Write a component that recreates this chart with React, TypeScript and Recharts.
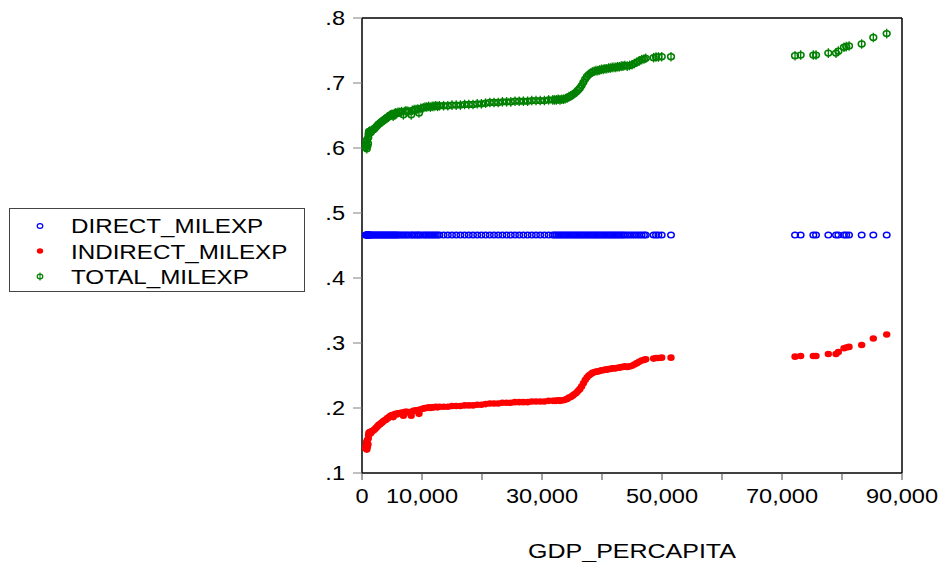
import React from 'react';
import { ScatterChart, Scatter, XAxis, YAxis, ReferenceLine } from 'recharts';

const FONT = '"Liberation Sans", Arial, sans-serif';

// GDP per capita (x values)
const gdpPercapita = [
  600, 700, 750, 800, 850, 900, 1000, 1050, 1100, 1150, 1200, 1300, 1450, 1600, 1800, 2000, 2200, 2400, 2600, 2800,
  3000, 3200, 3400, 3600, 3800, 4000, 4200, 4400, 4600, 4800, 5000, 5200, 5400, 5600, 5800, 6000, 6300, 6600, 6900, 7200,
  7500, 7800, 8200, 8400, 8700, 9000, 9300, 9500, 9800, 10200, 10500, 10800, 11100, 11400, 11700, 12000, 12300, 12600, 12900,
  13600, 14300, 15000, 15700, 16400, 17100, 17800, 18500, 19200, 19900, 20600, 21300, 22000, 22700, 23400, 24100, 24800,
  25500, 26200, 26900, 27600, 28300, 29000, 29700, 30400, 31100, 31800,
  32100, 32400, 32700, 33000, 33300, 33600, 33900, 34200, 34500, 34800, 35100, 35400, 35700, 36000, 36300, 36600, 36900,
  37200, 37500, 37800, 38100, 38400, 38700, 39000, 39300, 39600, 39900, 40200, 40500, 40800, 41100, 41400, 41700, 42000,
  42300, 42600, 42900, 43200, 43500, 43800,
  44200, 44600, 45000, 45400, 45800, 46200, 46600, 47000, 47300, 48600, 49000, 49400, 49950, 51500,
  72170, 73110, 75220, 75670, 77720, 79000, 79390, 80330, 80700, 81170, 83280, 85220, 87450,
];

const indirectMilexp = [
  0.138, 0.142, 0.147, 0.136, 0.150, 0.140, 0.144, 0.153, 0.158, 0.162, 0.160, 0.163, 0.161, 0.164, 0.165, 0.166, 0.168, 0.170, 0.172, 0.174,
  0.175, 0.177, 0.178, 0.180, 0.181, 0.182, 0.184, 0.185, 0.187, 0.188, 0.189, 0.186, 0.190, 0.191, 0.190, 0.192, 0.192, 0.193, 0.188, 0.194,
  0.194, 0.193, 0.188, 0.195, 0.196, 0.196, 0.197, 0.191, 0.198, 0.199, 0.200, 0.200, 0.201, 0.200, 0.201, 0.201, 0.202, 0.201, 0.202,
  0.202, 0.202, 0.203, 0.203, 0.203, 0.204, 0.204, 0.204, 0.205, 0.205, 0.206, 0.207, 0.207, 0.207, 0.208, 0.208, 0.208,
  0.209, 0.209, 0.209, 0.209, 0.210, 0.210, 0.210, 0.210, 0.211, 0.211,
  0.211, 0.211, 0.212, 0.211, 0.212, 0.212, 0.213, 0.214, 0.216, 0.217, 0.219, 0.221, 0.223, 0.226, 0.229, 0.233, 0.238,
  0.243, 0.247, 0.250, 0.252, 0.254, 0.255, 0.256, 0.256, 0.257, 0.258, 0.258, 0.259, 0.259, 0.260, 0.260, 0.261, 0.261,
  0.261, 0.262, 0.262, 0.263, 0.263, 0.264,
  0.263, 0.264, 0.265, 0.267, 0.269, 0.271, 0.273, 0.274, 0.275, 0.276, 0.277, 0.277, 0.2775, 0.2775,
  0.279, 0.280, 0.280, 0.280, 0.283, 0.283, 0.286, 0.292, 0.293, 0.294, 0.297, 0.307, 0.313,
];

const totalMilexp = [
  0.601, 0.605, 0.610, 0.599, 0.613, 0.603, 0.607, 0.616, 0.621, 0.625, 0.623, 0.626, 0.624, 0.627, 0.628, 0.629, 0.631, 0.633, 0.635, 0.637,
  0.638, 0.640, 0.641, 0.643, 0.644, 0.645, 0.647, 0.648, 0.650, 0.651, 0.652, 0.649, 0.653, 0.654, 0.653, 0.655, 0.655, 0.656, 0.651, 0.657,
  0.657, 0.656, 0.651, 0.658, 0.659, 0.659, 0.660, 0.654, 0.661, 0.662, 0.663, 0.663, 0.664, 0.663, 0.664, 0.664, 0.665, 0.664, 0.665,
  0.665, 0.665, 0.666, 0.666, 0.666, 0.667, 0.667, 0.667, 0.668, 0.668, 0.669, 0.670, 0.670, 0.670, 0.671, 0.671, 0.671,
  0.672, 0.672, 0.672, 0.672, 0.673, 0.673, 0.673, 0.673, 0.674, 0.674,
  0.674, 0.674, 0.675, 0.674, 0.675, 0.675, 0.676, 0.677, 0.679, 0.680, 0.682, 0.684, 0.686, 0.689, 0.692, 0.696, 0.701,
  0.706, 0.710, 0.713, 0.715, 0.717, 0.718, 0.719, 0.719, 0.720, 0.721, 0.721, 0.722, 0.722, 0.723, 0.723, 0.724, 0.724,
  0.724, 0.725, 0.725, 0.726, 0.726, 0.727,
  0.726, 0.727, 0.728, 0.730, 0.732, 0.734, 0.736, 0.737, 0.738, 0.739, 0.740, 0.740, 0.7405, 0.7405,
  0.742, 0.743, 0.743, 0.743, 0.746, 0.746, 0.749, 0.755, 0.756, 0.757, 0.760, 0.770, 0.776,
];

// DIRECT_MILEXP is the same value for every observation
const DIRECT_MILEXP_VALUE = 0.466;

const xTicks = [0, 10000, 20000, 30000, 40000, 50000, 60000, 70000, 80000, 90000];
const xTickLabels = ['0', '10,000', '', '30,000', '', '50,000', '', '70,000', '', '90,000'];
const yTicks = [0.1, 0.2, 0.3, 0.4, 0.5, 0.6, 0.7, 0.8];
const yTickLabels = ['.1', '.2', '.3', '.4', '.5', '.6', '.7', '.8'];

const seriesNames = ['DIRECT_MILEXP', 'INDIRECT_MILEXP', 'TOTAL_MILEXP'];
const BLUE = '#0000ff';
const RED = '#ff0000';
const GREEN = '#008000';

const directData = gdpPercapita.map((g) => ({ x: g, y: DIRECT_MILEXP_VALUE }));
const indirectData = gdpPercapita.map((g, i) => ({ x: g, y: indirectMilexp[i] }));
const totalData = gdpPercapita.map((g, i) => ({ x: g, y: totalMilexp[i] }));

const BlueCircle = (p: any) => (
  <ellipse cx={p.cx} cy={p.cy} rx={3.3} ry={2.8} fill="none" stroke={BLUE} strokeWidth={1.4} />
);
const RedDot = (p: any) => <ellipse cx={p.cx} cy={p.cy} rx={3.7} ry={3.3} fill={RED} />;
const GreenPhi = (p: any) => (
  <g>
    <ellipse cx={p.cx} cy={p.cy} rx={3.4} ry={2.9} fill="none" stroke={GREEN} strokeWidth={1.5} />
    <line x1={p.cx} x2={p.cx} y1={p.cy - 4.8} y2={p.cy + 4.8} stroke={GREEN} strokeWidth={1.3} />
  </g>
);

const TICK_SCALE = 1.15;

const XTick = (p: any) => {
  const idx = xTicks.indexOf(p.payload.value);
  const label = idx >= 0 ? xTickLabels[idx] : '';
  return (
    <g transform={`translate(${p.x},${p.y})`}>
      <text transform={`scale(${TICK_SCALE},1)`} x={0} y={21} textAnchor="middle" fill="#000" fontSize={20.5} fontFamily={FONT}>
        {label}
      </text>
    </g>
  );
};

const YTick = (p: any) => {
  const idx = yTicks.findIndex((t) => Math.abs(t - p.payload.value) < 1e-9);
  const label = idx >= 0 ? yTickLabels[idx] : '';
  return (
    <g transform={`translate(${p.x},${p.y})`}>
      <text transform={`scale(${TICK_SCALE},1)`} x={-6 / TICK_SCALE} y={7} textAnchor="end" fill="#000" fontSize={20.5} fontFamily={FONT}>
        {label}
      </text>
    </g>
  );
};

const LEG_SCALE = 1.21;

export default function App() {
  return (
    <div style={{ position: 'absolute', left: 0, top: 0, width: 941, height: 562, background: '#fff' }}>
      <ScatterChart width={941} height={562} margin={{ top: 18, right: 39, left: 0, bottom: 29 }}>
        <XAxis
          type="number"
          dataKey="x"
          domain={[0, 90000]}
          ticks={xTicks}
          interval={0}
          height={60}
          tickSize={7}
          tickMargin={2}
          axisLine={{ stroke: '#000', strokeWidth: 1.5 }}
          tickLine={{ stroke: '#444', strokeWidth: 1 }}
          tick={<XTick />}
          allowDataOverflow
        />
        <YAxis
          type="number"
          dataKey="y"
          domain={[0.1, 0.8]}
          ticks={yTicks}
          interval={0}
          width={362}
          tickSize={9}
          tickMargin={2}
          axisLine={{ stroke: '#000', strokeWidth: 1.5 }}
          tickLine={{ stroke: '#808080', strokeWidth: 1 }}
          tick={<YTick />}
          allowDataOverflow
        />
        <ReferenceLine y={0.8} stroke="#000" strokeWidth={1.5} />
        <ReferenceLine x={90000} stroke="#000" strokeWidth={1.5} />
        <Scatter name={seriesNames[0]} data={directData} shape={BlueCircle} isAnimationActive={false} />
        <Scatter name={seriesNames[1]} data={indirectData} shape={RedDot} isAnimationActive={false} />
        <Scatter name={seriesNames[2]} data={totalData} shape={GreenPhi} isAnimationActive={false} />
      </ScatterChart>
      <svg width={941} height={562} style={{ position: 'absolute', left: 0, top: 0, pointerEvents: 'none' }}>
        <g transform="translate(632,558)">
          <text transform="scale(1.19,1)" x={0} y={0} textAnchor="middle" fill="#000" fontSize={21} fontFamily={FONT}>
            GDP_PERCAPITA
          </text>
        </g>
        <rect x={9.5} y={208.5} width={295} height={83} fill="#fff" stroke="#444" strokeWidth={1} />
        <ellipse cx={40} cy={226} rx={2.8} ry={2.4} fill="none" stroke={BLUE} strokeWidth={1.2} />
        <ellipse cx={40} cy={251} rx={3.2} ry={2.8} fill={RED} />
        <ellipse cx={40} cy={276.5} rx={2.8} ry={2.4} fill="none" stroke={GREEN} strokeWidth={1.2} />
        <line x1={40} x2={40} y1={272.5} y2={280.5} stroke={GREEN} strokeWidth={1.1} />
        {seriesNames.map((n, i) => (
          <g key={n} transform={`translate(71,${233.3 + i * 25.2})`}>
            <text transform={`scale(${LEG_SCALE},1)`} x={0} y={0} fill="#000" fontSize={20} fontFamily={FONT}>
              {n}
            </text>
          </g>
        ))}
      </svg>
    </div>
  );
}
